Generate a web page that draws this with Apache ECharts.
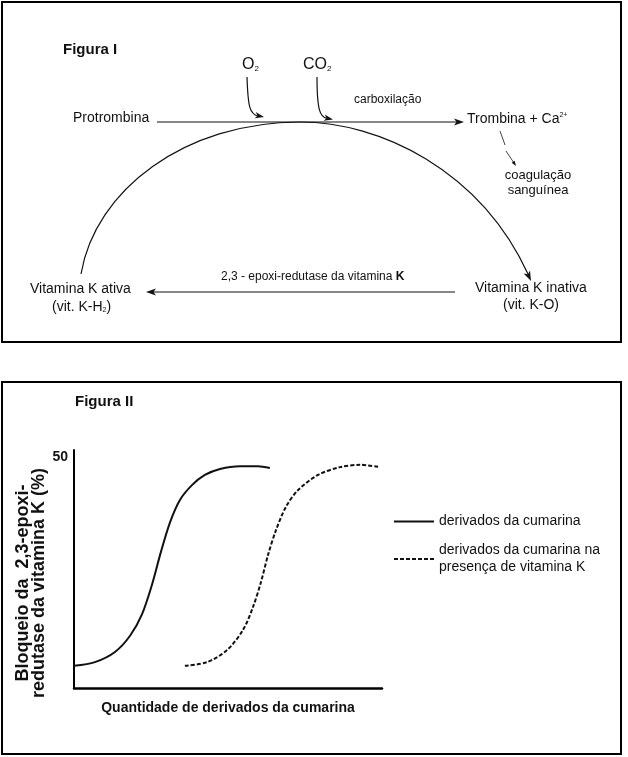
<!DOCTYPE html>
<html>
<head>
<meta charset="utf-8">
<script src="https://cdn.jsdelivr.net/npm/echarts@6/dist/echarts.min.js"></script>
<style>
html,body{margin:0;padding:0;background:#fff;}
#c{width:628px;height:757px;}
</style>
</head>
<body>
<div id="c"></div>
<script>
// ---- Data (Figura II) ----
const seriesNames = ['derivados da cumarina', 'derivados da cumarina na\npresença de vitamina K'];
const solidX = [0, 6.8, 13.3, 18.2, 22.1, 25.3, 28.2, 31.2, 34.4, 38.3, 42.5, 47.4, 53.9, 59.7, 63.6];
const solidY = [4.8, 5.6, 7.8, 11.3, 16.0, 22.3, 29.4, 35.9, 40.7, 43.9, 46.1, 47.4, 48.0, 48.0, 47.6];
const dashX = [36.0, 43.2, 49.7, 54.9, 58.1, 60.7, 63.0, 65.6, 68.8, 72.7, 79.2, 86.4, 92.9, 99.4];
const dashY = [4.8, 5.6, 8.2, 12.6, 17.5, 22.9, 28.8, 34.2, 39.2, 42.8, 46.1, 47.8, 48.3, 47.8];
const yTickLabels = ['50'];
const yAxisName = 'Bloqueio da  2,3-epoxi-\nredutase da vitamina K (%)';
const xAxisName = 'Quantidade de derivados da cumarina';

const F = "'Liberation Sans', Arial, Helvetica, sans-serif";
const INK = '#111';

function txt(x, y, text, size, extra) {
  return {
    type: 'text', x: x, y: y, silent: true,
    style: Object.assign({
      text: text, fontSize: size, fontFamily: F, fill: INK, verticalAlign: 'middle'
    }, extra || {})
  };
}
function ln(x1, y1, x2, y2, w) {
  return {type: 'line', silent: true, shape: {x1, y1, x2, y2}, style: {stroke: INK, lineWidth: w || 1.2}};
}
function head(pts) {
  return {type: 'polygon', silent: true, shape: {points: pts}, style: {fill: INK}};
}
function bez(x1, y1, cpx1, cpy1, cpx2, cpy2, x2, y2, w) {
  return {type: 'bezierCurve', silent: true, shape: {x1, y1, cpx1, cpy1, cpx2, cpy2, x2, y2},
          style: {stroke: INK, lineWidth: w || 1.2, fill: 'none'}};
}

const graphics = [
  // frames
  {type: 'rect', silent: true, shape: {x: 2, y: 2, width: 619, height: 340}, style: {fill: 'none', stroke: '#000', lineWidth: 2}},
  {type: 'rect', silent: true, shape: {x: 2, y: 382, width: 619, height: 372}, style: {fill: 'none', stroke: '#000', lineWidth: 2}},
  // Figura I
  txt(63, 50, 'Figura I', 15, {fontWeight: 'bold'}),
  txt(242, 65, 'O{s|2}', 16, {rich: {s: {fontSize: 8, fontFamily: F, fill: INK, verticalAlign: 'bottom'}}}),
  txt(303, 65, 'CO{s|2}', 16, {rich: {s: {fontSize: 8, fontFamily: F, fill: INK, verticalAlign: 'bottom'}}}),
  txt(354, 100, 'carboxilação', 12),
  txt(73, 118, 'Protrombina', 14),
  txt(467, 119, 'Trombina + Ca{p|2+}', 14, {rich: {p: {fontSize: 7, fontFamily: F, fill: INK, verticalAlign: 'top'}}}),
  txt(538, 175, 'coagulação', 13, {align: 'center'}),
  txt(538, 190, 'sanguínea', 13, {align: 'center'}),
  txt(30, 289, 'Vitamina K ativa', 14),
  txt(52, 307, '(vit. K-H{s|2})', 14, {rich: {s: {fontSize: 7, fontFamily: F, fill: INK, verticalAlign: 'bottom'}}}),
  txt(221, 277, '2,3 - epoxi-redutase da vitamina {b|K}', 12, {rich: {b: {fontSize: 12, fontFamily: F, fill: INK, fontWeight: 'bold'}}}),
  txt(475, 288, 'Vitamina K inativa', 14),
  txt(503, 305, '(vit. K-O)', 14),
  // main horizontal arrow
  ln(157, 122, 457, 122),
  head([[464, 122], [454, 118.5], [456.5, 122], [454, 125.5]]),
  // O2 / CO2 arrows
  bez(247, 77, 248, 108, 250, 114, 258, 116),
  head([[264, 117], [255.8, 112.1], [257.6, 115.7], [254.6, 118.3]]),
  bez(317, 77, 317, 110, 320, 117, 327, 118.3),
  head([[333, 119.5], [324.8, 114.6], [326.6, 118.2], [323.6, 120.8]]),
  // small arrows to coagulação
  ln(500, 131, 505, 145, 0.8),
  ln(506, 151, 514, 163, 0.8),
  head([[516, 166], [514.7, 160.8], [511.7, 162.8]]),
  // cycle arc
  bez(81, 274, 95, 190, 185, 122, 300, 122),
  bez(300, 122, 380, 122, 480, 170, 528, 274),
  head([[531, 281], [530, 270.4], [527.9, 274.2], [523.6, 273.4]]),
  // bottom arrow
  ln(153, 292, 455, 292),
  head([[146, 292], [156, 288.5], [153.5, 292], [156, 295.5]]),
  // Figura II
  txt(75, 402, 'Figura II', 15, {fontWeight: 'bold'})
];

const chart = echarts.init(document.getElementById('c'), null, {renderer: 'canvas'});
chart.setOption({
  animation: false,
  backgroundColor: '#fff',
  textStyle: {fontFamily: F},
  grid: {left: 74, top: 450, right: 246, bottom: 69, containLabel: false},
  xAxis: {
    type: 'value', min: 0, max: 100,
    name: xAxisName, nameLocation: 'middle', nameGap: 13,
    nameTextStyle: {fontSize: 14, fontWeight: 'bold', color: INK, fontFamily: F, verticalAlign: 'top'},
    axisLine: {show: true, lineStyle: {color: '#000', width: 2.5}},
    axisTick: {show: false}, axisLabel: {show: false}, splitLine: {show: false}
  },
  yAxis: {
    type: 'value', min: 0, max: 51.5, interval: 50,
    name: yAxisName, nameLocation: 'middle', nameRotate: 90, nameGap: 18,
    nameTextStyle: {fontSize: 18, fontWeight: 'bold', color: INK, fontFamily: F, lineHeight: 16, padding: [0, 28, 0, 0]},
    axisLine: {show: true, lineStyle: {color: '#000', width: 2}},
    axisTick: {show: false}, splitLine: {show: false},
    axisLabel: {
      margin: 6, fontSize: 14, fontWeight: 'bold', color: INK, fontFamily: F,
      formatter: function (v) { return yTickLabels.indexOf(String(v)) >= 0 ? String(v) : ''; }
    }
  },
  legend: {
    orient: 'vertical', left: 388, top: 508,
    itemWidth: 40, itemHeight: 14, itemGap: 12,
    itemStyle: {opacity: 0},
    textStyle: {fontSize: 14, lineHeight: 17, color: INK, fontFamily: F},
    data: seriesNames
  },
  series: [
    {
      name: seriesNames[0], type: 'line', symbol: 'none', smooth: 0.3,
      lineStyle: {color: INK, width: 2, type: 'solid'}, itemStyle: {color: INK},
      data: solidX.map((x, i) => [x, solidY[i]])
    },
    {
      name: seriesNames[1], type: 'line', symbol: 'none', smooth: 0.3,
      lineStyle: {color: INK, width: 2, type: [4, 2]}, itemStyle: {color: INK},
      data: dashX.map((x, i) => [x, dashY[i]])
    }
  ],
  graphic: graphics
});
</script>
</body>
</html>
